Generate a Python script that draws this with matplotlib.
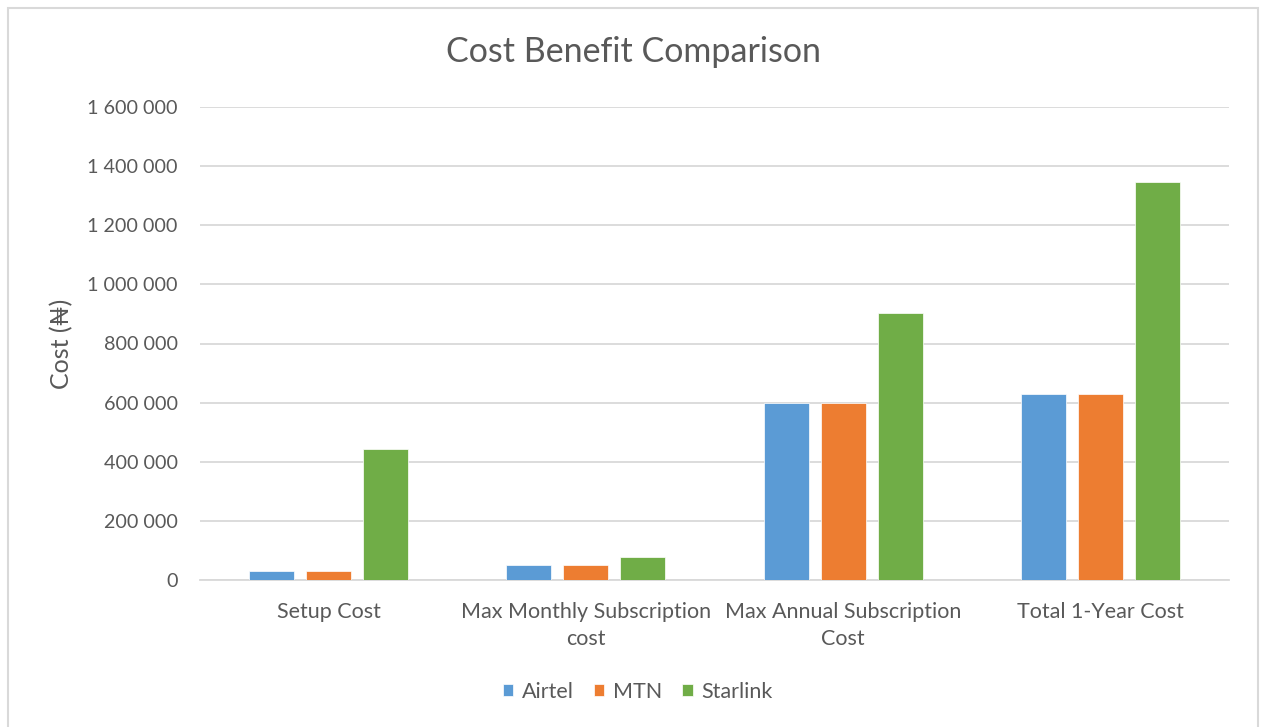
import numpy as np
import matplotlib.pyplot as plt
from matplotlib.patches import Rectangle

categories = ['Setup Cost', 'Max Monthly Subscription\ncost',
              'Max Annual Subscription\nCost', 'Total 1-Year Cost']
airtel = [30000, 50000, 600000, 630000]
mtn = [30000, 50000, 600000, 630000]
starlink = [443000, 77000, 902000, 1345000]
series_names = ['Airtel', 'MTN', 'Starlink']
colors = ['#5B9BD5', '#ED7D31', '#70AD47']

plt.rcParams['font.family'] = ['Lato', 'DejaVu Sans']
text_col = '#595959'

fig = plt.figure(figsize=(12.64, 7.27), dpi=100)
ax = fig.add_axes([200 / 1264, 1 - 580 / 727, 1029 / 1264, 473 / 727])

# light gray outer frame like the Excel chart area
fig.patches.append(Rectangle((8 / 1264, -0.01), 1250 / 1264, 1 - 8 / 727 + 0.01,
                             transform=fig.transFigure, fill=False,
                             edgecolor='#D9D9D9', linewidth=1.5))

x = np.arange(len(categories))
w = 0.175
step = 0.222
for i, (vals, name) in enumerate(zip([airtel, mtn, starlink], series_names)):
    ax.bar(x + (i - 1) * step, vals, width=w, color=colors[i], label=name,
           edgecolor='white', linewidth=0.5, zorder=3)

ax.set_xlim(-0.5, 3.5)
ax.set_ylim(0, 1600000)
ax.set_yticks(np.arange(0, 1600001, 200000))
ax.set_yticklabels([f'{int(v):,}'.replace(',', ' ') for v in ax.get_yticks()])
ax.set_xticks(x)
ax.set_xticklabels(categories, linespacing=1.45)
ax.grid(axis='y', color='#D9D9D9', linewidth=1.3, zorder=0)
for s in ['top', 'right', 'left']:
    ax.spines[s].set_visible(False)
ax.spines['bottom'].set_color('#D9D9D9')
ax.spines['bottom'].set_linewidth(1.3)
ax.tick_params(axis='both', length=0, colors=text_col)
ax.tick_params(axis='x', pad=16, labelsize=15.5)
ax.tick_params(axis='y', pad=16, labelsize=14.2)

ax.set_ylabel('Cost (₦)', fontsize=18, color=text_col, labelpad=10)
fig.text(633 / 1264, 1 - 52 / 727, 'Cost Benefit Comparison', ha='center', va='center',
         fontsize=24.5, color=text_col)

fig.legend(loc='center', bbox_to_anchor=(638 / 1264, 1 - 692 / 727), ncol=3, frameon=False,
           fontsize=15.5, handlelength=0.47, handleheight=0.47, columnspacing=0.93,
           handletextpad=0.42, labelcolor=text_col)

fig.savefig('out.png', dpi=100, facecolor='white')
